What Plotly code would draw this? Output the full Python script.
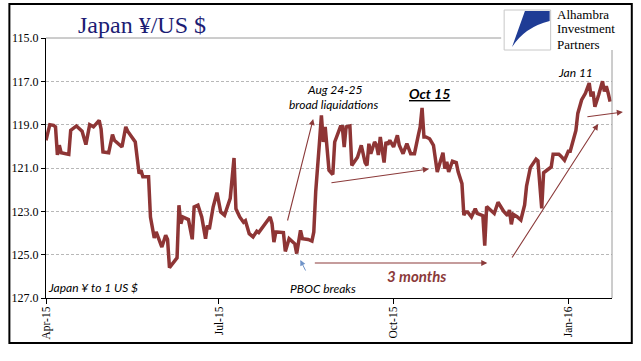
import plotly.graph_objects as go

# ---------------- data ----------------
dates = [
    "2015-04-01", "2015-04-03", "2015-04-05", "2015-04-06", "2015-04-07", "2015-04-08", "2015-04-09",
    "2015-04-13", "2015-04-14", "2015-04-17", "2015-04-20", "2015-04-22", "2015-04-24", "2015-04-26",
    "2015-04-29", "2015-04-30", "2015-05-01", "2015-05-04", "2015-05-06", "2015-05-07", "2015-05-11",
    "2015-05-13", "2015-05-14", "2015-05-18", "2015-05-20", "2015-05-21", "2015-05-22", "2015-05-25",
    "2015-05-26", "2015-05-28", "2015-05-29", "2015-06-01", "2015-06-03", "2015-06-04", "2015-06-05",
    "2015-06-09", "2015-06-10", "2015-06-11", "2015-06-12", "2015-06-15", "2015-06-17", "2015-06-18",
    "2015-06-20", "2015-06-22", "2015-06-24", "2015-06-25", "2015-06-26", "2015-06-28", "2015-06-30",
    "2015-07-02", "2015-07-04", "2015-07-06", "2015-07-07", "2015-07-09", "2015-07-10", "2015-07-12",
    "2015-07-14", "2015-07-15", "2015-07-17", "2015-07-19", "2015-07-21", "2015-07-22", "2015-07-25",
    "2015-07-28", "2015-07-29", "2015-07-30", "2015-07-31", "2015-08-04", "2015-08-05", "2015-08-07",
    "2015-08-10", "2015-08-11", "2015-08-13", "2015-08-14", "2015-08-17", "2015-08-19", "2015-08-20",
    "2015-08-21", "2015-08-23", "2015-08-24", "2015-08-25", "2015-08-26", "2015-08-28", "2015-08-30",
    "2015-08-31", "2015-09-02", "2015-09-03", "2015-09-04", "2015-09-05", "2015-09-06", "2015-09-08",
    "2015-09-09", "2015-09-11", "2015-09-12", "2015-09-14", "2015-09-16", "2015-09-17", "2015-09-18",
    "2015-09-19", "2015-09-21", "2015-09-22", "2015-09-23", "2015-09-24", "2015-09-26", "2015-09-27",
    "2015-09-28", "2015-09-29", "2015-10-01", "2015-10-03", "2015-10-04", "2015-10-06", "2015-10-08",
    "2015-10-10", "2015-10-12", "2015-10-14", "2015-10-15", "2015-10-16", "2015-10-17", "2015-10-18",
    "2015-10-20", "2015-10-22", "2015-10-23", "2015-10-24", "2015-10-25", "2015-10-27", "2015-10-28",
    "2015-10-29", "2015-10-30", "2015-11-01", "2015-11-03", "2015-11-04", "2015-11-06", "2015-11-07",
    "2015-11-08", "2015-11-09", "2015-11-11", "2015-11-13", "2015-11-14", "2015-11-17", "2015-11-18",
    "2015-11-19", "2015-11-21", "2015-11-23", "2015-11-25", "2015-11-27", "2015-11-28", "2015-11-30",
    "2015-12-01", "2015-12-02", "2015-12-03", "2015-12-05", "2015-12-07", "2015-12-09", "2015-12-10",
    "2015-12-12", "2015-12-15", "2015-12-16", "2015-12-18", "2015-12-19", "2015-12-22", "2015-12-23",
    "2015-12-24", "2015-12-27", "2015-12-28", "2015-12-30", "2016-01-01", "2016-01-02", "2016-01-05",
    "2016-01-06", "2016-01-08", "2016-01-10", "2016-01-12", "2016-01-13", "2016-01-14", "2016-01-15",
    "2016-01-17", "2016-01-19", "2016-01-20", "2016-01-21", "2016-01-22", "2016-01-23",
]
yen_per_usd = [
    119.72, 119.00, 119.03, 119.10, 120.40, 119.95, 120.30,
    120.37, 119.26, 119.06, 119.30, 119.92, 119.00, 119.10,
    118.80, 119.20, 120.26, 120.30, 119.46, 119.72, 120.03,
    119.10, 119.30, 119.80, 121.26, 121.10, 121.40, 121.40,
    123.26, 124.23, 123.95, 124.65, 124.10, 124.30, 125.60,
    125.15, 122.72, 123.57, 123.26, 123.38, 124.29, 122.80,
    122.72, 123.26, 124.26, 123.65, 123.83, 122.80, 122.14,
    123.03, 123.18, 122.60, 122.40, 120.54, 122.88, 123.26,
    123.50, 123.43, 124.03, 124.18, 123.92, 123.98, 123.65,
    123.26, 123.57, 124.42, 123.95, 123.98, 124.85, 124.26,
    124.50, 124.95, 123.88, 124.26, 124.30, 124.37, 123.95,
    122.10, 119.80, 118.57, 119.80, 119.10, 121.10, 121.30,
    119.80, 119.40, 119.10, 119.10, 120.03, 119.10, 119.06,
    120.88, 120.65, 120.50, 119.95, 120.75, 120.88, 119.88,
    120.34, 119.80, 119.95, 120.40, 119.57, 120.75, 119.80,
    119.92, 119.72, 120.03, 119.49, 119.95, 120.34, 119.88,
    120.34, 120.34, 119.49, 119.10, 118.23, 119.57, 119.57,
    119.65, 119.95, 120.69, 121.18, 120.88, 120.30, 121.03,
    120.72, 121.18, 120.69, 120.75, 121.18, 121.72, 123.18,
    123.03, 123.03, 123.26, 122.88, 123.10, 123.20, 124.58,
    122.78, 122.94, 123.10, 122.58, 122.86, 123.00, 123.20,
    122.94, 123.60, 123.14, 123.25, 123.40, 122.70, 121.84,
    120.98, 120.59, 120.67, 122.86, 121.22, 121.00, 120.95,
    120.36, 120.36, 120.44, 120.64, 120.23, 120.23, 119.27,
    118.48, 117.86, 117.55, 117.08, 117.70, 117.47, 118.17,
    117.62, 117.00, 117.47, 117.23, 117.55, 117.94,
]
x_tick_dates = ["2015-04-01", "2015-07-01", "2015-10-01", "2016-01-01"]
x_tick_labels = ["Apr-15", "Jul-15", "Oct-15", "Jan-16"]
y_tick_values = [115, 117, 119, 121, 123, 125, 127]
y_tick_labels = ["115.0", "117.0", "119.0", "121.0", "123.0", "125.0", "127.0"]
x_range = ["2015-04-01", "2016-01-24"]

# ---------------- layout helpers (pixel -> paper) ----------------
W, H = 641, 361
L, R, T, B = 40, 612, 38, 298


def px(x):
    return (x - L) / (R - L)


def py(y):
    return (B - y) / (B - T)


LINE_RED = "#8E3535"
ARROW_RED = "#8B3A3A"
SANS = "Lato, 'Open Sans', sans-serif"
SERIF = "'Liberation Serif', 'DejaVu Serif', serif"

fig = go.Figure()
fig.add_trace(go.Scatter(
    x=dates, y=yen_per_usd, mode="lines",
    line=dict(color=LINE_RED, width=3.5),
    hoverinfo="skip", showlegend=False,
))

annotations = []


def text(cx, cy, s, size=12, color="black", family=SANS, xanchor="center"):
    annotations.append(dict(
        x=px(cx), y=py(cy), xref="paper", yref="paper", text=s, showarrow=False,
        xanchor=xanchor, yanchor="middle", font=dict(family=family, size=size, color=color),
    ))


def arrow(tx, ty, hx, hy, color=ARROW_RED, width=1.1):
    annotations.append(dict(
        x=px(hx), y=py(hy), xref="paper", yref="paper", text="", showarrow=True,
        ax=tx - hx, ay=ty - hy, axref="pixel", ayref="pixel",
        arrowhead=2, arrowsize=1.1, arrowwidth=width, arrowcolor=color, standoff=0,
    ))


# title and logo text
text(70, 25, "Japan ¥/US $", size=24, color="#1C1C74", family=SERIF, xanchor="left")
text(554, 14, "Alhambra", size=13, family=SERIF, xanchor="left")
text(554, 29, "Investment", size=13, family=SERIF, xanchor="left")
text(554, 44, "Partners", size=13, family=SERIF, xanchor="left")

# chart notes
text(88, 287, "<i>Japan ¥ to 1 US $</i>", size=12)
text(320, 288, "<i>PBOC breaks</i>", size=12)
text(414, 276, "<b><i>3 months</i></b>", size=15, color=ARROW_RED)
text(332, 89, "<i>Aug 24-25</i>", size=12)
text(331, 104, "<i>broad liquidations</i>", size=12)
text(428, 93, "<u><b><i>Oct 15</i></b></u>", size=14)
text(575, 72, "<i>Jan 11</i>", size=12)

# arrows
arrow(284, 222, 310, 119)
arrow(303, 272, 297, 260, color="#6F93C8", width=1)
arrow(312, 263, 486, 263)
arrow(328, 183, 427, 169)
arrow(511, 259, 598, 124)
arrow(586, 117, 623, 112)

shapes = [
    # white patch behind the logo
    dict(type="rect", xref="paper", yref="paper", x0=px(500), x1=px(631), y0=py(49), y1=py(6),
         fillcolor="white", line=dict(width=0), layer="above"),
    # solid top line of plot (115.0)
    dict(type="line", xref="paper", yref="paper", x0=0, x1=px(500), y0=1, y1=1,
         line=dict(color="#9a9a9a", width=1), layer="above"),
    # right border of plot
    dict(type="line", xref="paper", yref="paper", x0=1, x1=1, y0=0, y1=py(50),
         line=dict(color="#9a9a9a", width=1), layer="above"),
    # logo square
    dict(type="rect", xref="paper", yref="paper", x0=px(503), x1=px(550), y0=py(50), y1=py(10),
         fillcolor="white", line=dict(color="#c8c8c8", width=1), layer="above"),
    dict(type="path", xref="paper", yref="paper",
         path=(f"M {px(524)},{py(11)} L {px(549)},{py(11)} L {px(549)},{py(21)} "
               f"Q {px(524)},{py(27)} {px(511)},{py(47)} Z"),
         fillcolor="#1F3C95", line=dict(width=0), layer="above"),
    # outer frame
    dict(type="rect", xref="paper", yref="paper", x0=px(3), x1=px(632), y0=py(343), y1=py(4),
         fillcolor="rgba(0,0,0,0)", line=dict(color="black", width=2), layer="above"),
]

fig.update_layout(
    width=W, height=H,
    margin=dict(l=L, r=W - R, t=T, b=H - B, pad=0),
    paper_bgcolor="white", plot_bgcolor="white",
    showlegend=False,
    annotations=annotations,
    shapes=shapes,
    xaxis=dict(
        type="date", range=x_range,
        tickvals=x_tick_dates, ticktext=x_tick_labels, tickangle=-90,
        showgrid=False, zeroline=False,
        showline=True, linecolor="black", linewidth=1,
        ticks="outside", ticklen=5, tickcolor="black", ticklabelstandoff=-2,
        tickfont=dict(family=SERIF, size=11.5, color="black"),
    ),
    yaxis=dict(
        range=[127, 115],
        tickvals=y_tick_values, ticktext=y_tick_labels,
        showgrid=True, gridcolor="#b8b8b8", gridwidth=1, griddash="3px,2px",
        zeroline=False,
        showline=True, linecolor="black", linewidth=1,
        ticks="outside", ticklen=4, tickcolor="black",
        tickfont=dict(family=SERIF, size=12, color="black"),
    ),
)

fig.write_html(
    "out.html",
    config={"displayModeBar": False, "staticPlot": True},
    post_script="document.body.style.margin='0';document.body.style.overflow='hidden';",
)
